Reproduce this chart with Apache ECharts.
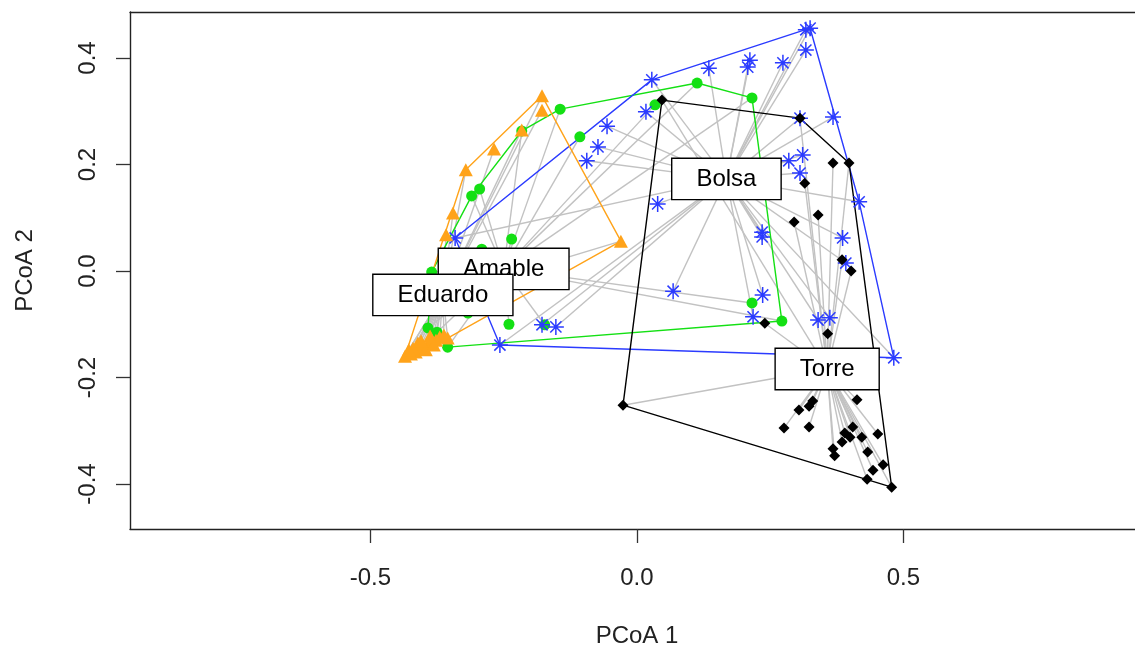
<!DOCTYPE html>
<html><head><meta charset="utf-8">
<script src="https://cdn.jsdelivr.net/npm/echarts@6/dist/echarts.min.js"></script>
<style>html,body{margin:0;padding:0;background:#fff}#c{width:1135px;height:653px}</style>
</head><body><div id="c"></div>
<script>
// ---- data (PCoA scores) ----
const groups = ['Amable', 'Bolsa', 'Eduardo', 'Torre'];

const amableX = [-0.144, -0.107, -0.216, -0.295, -0.310, -0.235, -0.291, -0.385, 0.034, 0.113, 0.216, 0.216, 0.272, -0.240, -0.173, -0.392, -0.375, -0.355, -0.317];
const amableY = [0.304, 0.252, 0.263, 0.154, 0.141, 0.060, 0.041, -0.002, 0.312, 0.353, 0.325, -0.060, -0.094, -0.100, -0.101, -0.107, -0.115, -0.143, -0.079];

const bolsaX = [0.317, 0.325, 0.317, 0.028, 0.135, 0.212, 0.208, 0.274, 0.017, -0.056, -0.073, -0.094, 0.306, 0.368, 0.285, 0.311, 0.306, 0.417, 0.039, 0.235, 0.235, 0.386, 0.392, 0.068, 0.236, 0.218, 0.340, 0.362, 0.482, -0.178, -0.152, -0.257, -0.341];
const bolsaY = [0.453, 0.456, 0.415, 0.359, 0.381, 0.396, 0.383, 0.391, 0.299, 0.272, 0.233, 0.207, 0.287, 0.289, 0.207, 0.218, 0.184, 0.130, 0.126, 0.073, 0.064, 0.062, 0.015, -0.038, -0.045, -0.086, -0.092, -0.088, -0.163, -0.101, -0.105, -0.139, 0.062];

const eduardoX = [-0.178, -0.178, -0.216, -0.268, -0.321, -0.345, -0.358, -0.030, -0.355, -0.435, -0.424, -0.415, -0.407, -0.400, -0.392, -0.385, -0.377, -0.370, -0.362, -0.388, -0.411, -0.420, -0.396, -0.405, -0.381, -0.428];
const eduardoY = [0.329, 0.302, 0.265, 0.229, 0.190, 0.109, 0.068, 0.056, -0.126, -0.160, -0.156, -0.152, -0.146, -0.141, -0.137, -0.133, -0.130, -0.124, -0.120, -0.122, -0.135, -0.145, -0.148, -0.131, -0.139, -0.148];

const torreX = [0.047, 0.306, 0.368, 0.398, 0.315, 0.340, 0.295, 0.385, 0.402, 0.240, 0.358, -0.026, 0.413, 0.330, 0.323, 0.304, 0.276, 0.323, 0.405, 0.390, 0.400, 0.385, 0.422, 0.452, 0.368, 0.371, 0.433, 0.462, 0.443, 0.432, 0.478];
const torreY = [0.321, 0.287, 0.203, 0.203, 0.165, 0.105, 0.092, 0.021, 0.000, -0.098, -0.118, -0.252, -0.242, -0.244, -0.254, -0.261, -0.295, -0.293, -0.293, -0.304, -0.312, -0.321, -0.312, -0.306, -0.334, -0.347, -0.340, -0.364, -0.374, -0.391, -0.406];

// group centroids (where the spider lines meet and the labels sit)
const centroidX = [-0.250, 0.168, -0.364, 0.357];
const centroidY = [0.004, 0.173, -0.045, -0.184];

const xTicks = [-0.5, 0.0, 0.5];
const yTicks = [-0.4, -0.2, 0.0, 0.2, 0.4];

// ---- styling ----
const FONT = '"Liberation Sans", Arial, Helvetica, sans-serif';
const colors = ['#14e014', '#2b3bff', '#ffa31a', '#000000'];
const symbols = [
  'circle',
  'path://M10,0 L10,20 M0,10 L20,10 M3,3 L17,17 M3,17 L17,3',
  'triangle',
  'diamond'
];
const symbolSizes = [11, 16, [14, 13], [11, 11]];

const pointsX = [amableX, bolsaX, eduardoX, torreX];
const pointsY = [amableY, bolsaY, eduardoY, torreY];

function hull(pts) {
  const p = pts.slice().sort((a, b) => a[0] - b[0] || a[1] - b[1]);
  const cross = (o, a, b) => (a[0] - o[0]) * (b[1] - o[1]) - (a[1] - o[1]) * (b[0] - o[0]);
  const lower = [], upper = [];
  for (const q of p) { while (lower.length >= 2 && cross(lower[lower.length - 2], lower[lower.length - 1], q) <= 0) lower.pop(); lower.push(q); }
  for (let i = p.length - 1; i >= 0; i--) { const q = p[i]; while (upper.length >= 2 && cross(upper[upper.length - 2], upper[upper.length - 1], q) <= 0) upper.pop(); upper.push(q); }
  upper.pop(); lower.pop();
  const h = lower.concat(upper);
  h.push(h[0]);
  return h;
}

const series = [];
groups.forEach((g, i) => {
  const pts = pointsX[i].map((x, k) => [x, pointsY[i][k]]);
  const c = [centroidX[i], centroidY[i]];
  series.push({
    type: 'lines', coordinateSystem: 'cartesian2d', silent: true, z: 1,
    lineStyle: { color: '#c2c2c2', width: 1.4, opacity: 1 },
    data: pts.map(p => ({ coords: [p, c] }))
  });
  series.push({
    type: 'line', data: hull(pts), showSymbol: false, symbol: 'none', silent: true, z: 2,
    lineStyle: { color: colors[i], width: 1.4 }
  });
  series.push({
    type: 'scatter', name: g, data: pts, symbol: symbols[i], symbolSize: symbolSizes[i], z: 3,
    itemStyle: i === 1 ? { color: colors[i], borderColor: colors[i], borderWidth: 1.5, opacity: 1 } : { color: colors[i], opacity: 1 }
  });
});
// group labels drawn at the centroids, in factor order (later ones on top)
series.push({
  type: 'custom', z: 10, silent: true,
  data: groups.map((g, i) => [centroidX[i], centroidY[i]]),
  renderItem: (params, api) => {
    const p = api.coord([api.value(0), api.value(1)]);
    return {
      type: 'text', x: p[0], y: p[1], z2: params.dataIndex,
      style: {
        text: groups[params.dataIndex], fill: '#000', font: '24px ' + FONT,
        align: 'center', verticalAlign: 'middle',
        backgroundColor: '#fff', borderColor: '#000', borderWidth: 1.4, padding: [8, 24]
      }
    };
  }
});

// plot region: the frame continues past the right edge of the picture
const X_MIN = -0.951, PX_PER_UNIT = 533, GRID_LEFT = 130, GRID_W = 1135 - 130;
const X_MAX = X_MIN + GRID_W / PX_PER_UNIT;
const frame = { show: true, onZero: false, lineStyle: { color: '#222', width: 1.4 } };

const chart = echarts.init(document.getElementById('c'), null, { renderer: 'canvas' });
chart.setOption({
  animation: false,
  backgroundColor: '#fff',
  grid: { left: GRID_LEFT, right: 0, top: 12, bottom: 124, show: false },
  xAxis: [{
    type: 'value', min: X_MIN, max: X_MAX, position: 'bottom',
    splitLine: { show: false }, axisLine: frame,
    axisTick: { show: true, length: 14, customValues: xTicks, lineStyle: { color: '#333', width: 1.3 } },
    axisLabel: { customValues: xTicks, formatter: v => v.toFixed(1), margin: 37, fontSize: 24, fontFamily: FONT, color: '#222' },
    name: 'PCoA 1', nameLocation: 'middle', nameGap: 95,
    nameTextStyle: { fontSize: 24, fontFamily: FONT, color: '#222', padding: [0, 0, 0, 9] }
  }, {
    type: 'value', min: X_MIN, max: X_MAX, position: 'top',
    splitLine: { show: false }, axisLine: frame, axisTick: { show: false }, axisLabel: { show: false }
  }],
  yAxis: {
    type: 'value', min: -0.4845, max: 0.4864,
    splitLine: { show: false }, axisLine: frame,
    axisTick: { show: true, length: 14, customValues: yTicks, lineStyle: { color: '#333', width: 1.3 } },
    axisLabel: { customValues: yTicks, formatter: v => v.toFixed(1), rotate: 90, margin: 30, fontSize: 24, fontFamily: FONT, color: '#222' },
    name: 'PCoA 2', nameLocation: 'middle', nameGap: 93,
    nameTextStyle: { fontSize: 24, fontFamily: FONT, color: '#222' }
  },
  series: series
});
</script>
</body></html>
